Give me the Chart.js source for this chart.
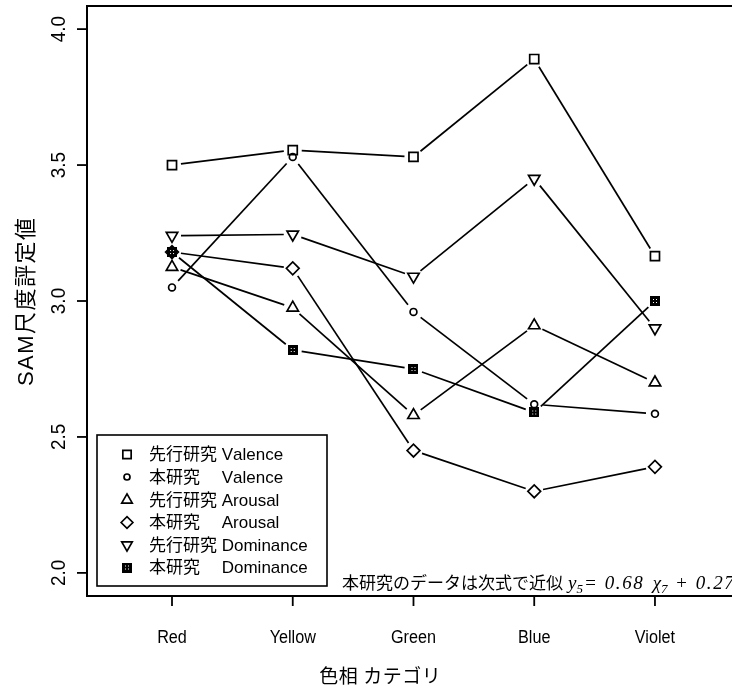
<!DOCTYPE html>
<html>
<head>
<meta charset="utf-8">
<script src="https://cdn.jsdelivr.net/npm/chart.js@4"></script>
<style>
  html, body { margin: 0; padding: 0; background: #fff; overflow: hidden; }
  canvas { display: block; }
</style>
</head>
<body>
<canvas id="c" width="732" height="691" style="width:732px;height:691px"></canvas>
<script>
// Hue categories on the x axis
const categories = ['Red', 'Yellow', 'Green', 'Blue', 'Violet'];

// Mean SAM ratings per hue
const prevValence   = [3.50, 3.555, 3.53, 3.89, 3.165];
const ownValence    = [3.05, 3.53, 2.96, 2.62, 2.585];
const prevArousal   = [3.125, 2.975, 2.58, 2.91, 2.70];
const ownArousal    = [3.18, 3.12, 2.45, 2.30, 2.39];
const prevDominance = [3.24, 3.245, 3.09, 3.45, 2.90];
const ownDominance  = [3.18, 2.82, 2.75, 2.59, 3.00];

// Axis ticks and texts
const yTicks = [2.0, 2.5, 3.0, 3.5, 4.0];
const yTickLabels = ['2.0', '2.5', '3.0', '3.5', '4.0'];
const seriesNames = [
  '先行研究 Valence',
  '本研究\u3000 Valence',
  '先行研究 Arousal',
  '本研究\u3000 Arousal',
  '先行研究 Dominance',
  '本研究\u3000 Dominance'
];
const xTitle = '色相 カテゴリ';
const yTitle = 'SAM尺度評定値';
const noteJa = '本研究のデータは次式で近似';

const LATIN = '"Liberation Sans", Arial, "Noto Sans CJK JP", sans-serif';
const CJK = '"Noto Sans CJK JP", "Liberation Sans", sans-serif';

// Filled square with a cross, used for the Dominance series of this study
function crossSquare(size) {
  const cv = document.createElement('canvas');
  cv.width = size; cv.height = size;
  const c = cv.getContext('2d');
  c.fillStyle = '#000';
  c.fillRect(0, 0, size, size);
  c.strokeStyle = '#fff';
  c.lineWidth = 1;
  c.beginPath();
  c.moveTo(3, 3); c.lineTo(size - 3, size - 3);
  c.moveTo(size - 3, 3); c.lineTo(3, size - 3);
  c.stroke();
  c.fillStyle = '#000';
  c.fillRect(size / 2 - 1, size / 2 - 1, 2, 2);
  return cv;
}
const crossImg = crossSquare(10);

const styles = [
  { pointStyle: 'rect', radius: 6.4, rotation: 0 },
  { pointStyle: 'circle', radius: 3.4, rotation: 0 },
  { pointStyle: 'triangle', radius: 6.6, rotation: 0 },
  { pointStyle: 'rectRot', radius: 6.4, rotation: 0 },
  { pointStyle: 'triangle', radius: 6.6, rotation: 180 },
  { pointStyle: crossImg, radius: 5, rotation: 0 }
];
const seriesValues = [prevValence, ownValence, prevArousal, ownArousal, prevDominance, ownDominance];

const datasets = seriesValues.map((vals, i) => ({
  label: seriesNames[i],
  data: vals.map((v, k) => ({ x: k + 1, y: v })),
  showLine: false,
  pointStyle: styles[i].pointStyle,
  pointRadius: styles[i].radius,
  pointRotation: styles[i].rotation,
  pointBorderColor: '#000',
  pointBackgroundColor: 'rgba(0,0,0,0)',
  pointBorderWidth: 1.7,
  clip: false
}));

// Draw text one glyph at a time with extra tracking
function spacedWidth(ctx, text, sp) {
  let w = 0;
  for (const ch of text) w += ctx.measureText(ch).width + sp;
  return w - sp;
}
function drawSpaced(ctx, text, x, y, sp) {
  for (const ch of text) {
    ctx.fillText(ch, x, y);
    x += ctx.measureText(ch).width + sp;
  }
  return x;
}
// Text centred on (cx, baseline) and squeezed along its direction by sx
function drawSqueezed(ctx, text, cx, baseline, sx) {
  ctx.save();
  ctx.translate(cx, baseline);
  ctx.scale(sx, 1);
  ctx.textAlign = 'center';
  ctx.fillText(text, 0, 0);
  ctx.restore();
}

// Connecting segments that stop short of each marker
const gapLines = {
  id: 'gapLines',
  beforeDatasetsDraw(chart) {
    const ctx = chart.ctx;
    ctx.save();
    ctx.strokeStyle = '#000';
    ctx.lineWidth = 1.7;
    chart.data.datasets.forEach((ds, i) => {
      const pts = chart.getDatasetMeta(i).data;
      for (let k = 0; k < pts.length - 1; k++) {
        const a = pts[k], b = pts[k + 1];
        const dx = b.x - a.x, dy = b.y - a.y;
        const L = Math.hypot(dx, dy);
        const g = 9;
        if (L <= 2 * g) continue;
        const ux = dx / L, uy = dy / L;
        ctx.beginPath();
        ctx.moveTo(a.x + ux * g, a.y + uy * g);
        ctx.lineTo(b.x - ux * g, b.y - uy * g);
        ctx.stroke();
      }
    });
    ctx.restore();
  }
};

// Frame, axes, titles, legend and note
const frame = {
  id: 'frame',
  afterDatasetsDraw(chart) {
    const ctx = chart.ctx;
    const xs = chart.scales.x, ys = chart.scales.y;
    const a = chart.chartArea;
    ctx.save();
    ctx.strokeStyle = '#000';
    ctx.fillStyle = '#000';

    // plot frame (it runs on past the right edge of the canvas)
    ctx.lineWidth = 2;
    ctx.beginPath();
    ctx.moveTo(chart.width + 2, a.top);
    ctx.lineTo(a.left, a.top);
    ctx.lineTo(a.left, a.bottom);
    ctx.lineTo(chart.width + 2, a.bottom);
    ctx.stroke();

    // y axis ticks and rotated labels
    ctx.lineWidth = 1.8;
    ctx.textBaseline = 'alphabetic';
    yTicks.forEach((v, i) => {
      const py = ys.getPixelForValue(v);
      ctx.beginPath();
      ctx.moveTo(a.left - 10, py);
      ctx.lineTo(a.left, py);
      ctx.stroke();
      ctx.save();
      ctx.translate(65, py);
      ctx.rotate(-Math.PI / 2);
      ctx.font = '21px ' + LATIN;
      drawSqueezed(ctx, yTickLabels[i], 0, 0, 0.9);
      ctx.restore();
    });

    // x axis ticks and labels
    ctx.font = '18px ' + LATIN;
    categories.forEach((c, k) => {
      const px = xs.getPixelForValue(k + 1);
      ctx.beginPath();
      ctx.moveTo(px, a.bottom);
      ctx.lineTo(px, a.bottom + 10);
      ctx.stroke();
      drawSqueezed(ctx, c, px, 643, 0.9);
    });

    // axis titles
    ctx.font = '19px ' + CJK;
    {
      const w = spacedWidth(ctx, xTitle, 0.5);
      drawSpaced(ctx, xTitle, 380 - w / 2, 683, 0.5);
    }
    ctx.save();
    ctx.translate(27, 302);
    ctx.rotate(-Math.PI / 2);
    ctx.font = '22px ' + LATIN;
    ctx.textBaseline = 'middle';
    {
      const w = spacedWidth(ctx, yTitle, 1.5);
      drawSpaced(ctx, yTitle, -w / 2, 0, 1.5);
    }
    ctx.restore();

    // legend
    ctx.lineWidth = 1.6;
    ctx.strokeRect(97, 435, 230, 151);
    ctx.font = '17px ' + LATIN;
    const rowY = [454.5, 477, 500, 522.5, 545, 567.5];
    seriesNames.forEach((name, i) => {
      const st = styles[i];
      ctx.save();
      ctx.lineWidth = 1.7;
      ctx.strokeStyle = '#000';
      ctx.fillStyle = 'rgba(0,0,0,0)';
      Chart.helpers.drawPoint(ctx, {
        pointStyle: st.pointStyle,
        rotation: st.rotation,
        radius: st.pointStyle === 'circle' ? 3 : st.radius * 0.92,
        borderWidth: 1.7
      }, 127, rowY[i]);
      ctx.restore();
      ctx.textBaseline = 'middle';
      drawSpaced(ctx, name, 149, rowY[i] + 1, 0);
    });

    // fitted-equation note at the bottom of the plot
    ctx.textBaseline = 'alphabetic';
    ctx.font = '17px ' + CJK;
    let x = drawSpaced(ctx, noteJa, 342, 589, 0);
    const serifIt = (s) => 'italic ' + s + 'px "Liberation Serif", "Times New Roman", serif';
    x += 5;
    ctx.font = serifIt(19);
    x = drawSpaced(ctx, 'y', x, 589, 0);
    ctx.font = serifIt(13);
    x = drawSpaced(ctx, '5', x, 593, 0);
    ctx.font = serifIt(19);
    x = drawSpaced(ctx, '= 0.68 ', x + 1, 589, 1.6);
    x = drawSpaced(ctx, 'χ', x + 2, 589, 0);
    ctx.font = serifIt(13);
    x = drawSpaced(ctx, '7', x, 593, 0);
    ctx.font = serifIt(19);
    drawSpaced(ctx, ' + 0.27', x + 1, 589, 1.6);

    ctx.restore();
  }
};

new Chart(document.getElementById('c'), {
  type: 'line',
  data: { datasets },
  options: {
    responsive: false,
    animation: false,
    devicePixelRatio: 1,
    layout: { autoPadding: false, padding: { left: 87, top: 6, right: 0, bottom: 95 } },
    plugins: { legend: { display: false }, tooltip: { enabled: false } },
    scales: {
      x: { type: 'linear', min: 0.296, max: 5.638, display: false },
      y: { type: 'linear', min: 1.915, max: 4.085, display: false }
    }
  },
  plugins: [gapLines, frame]
});
</script>
</body>
</html>
